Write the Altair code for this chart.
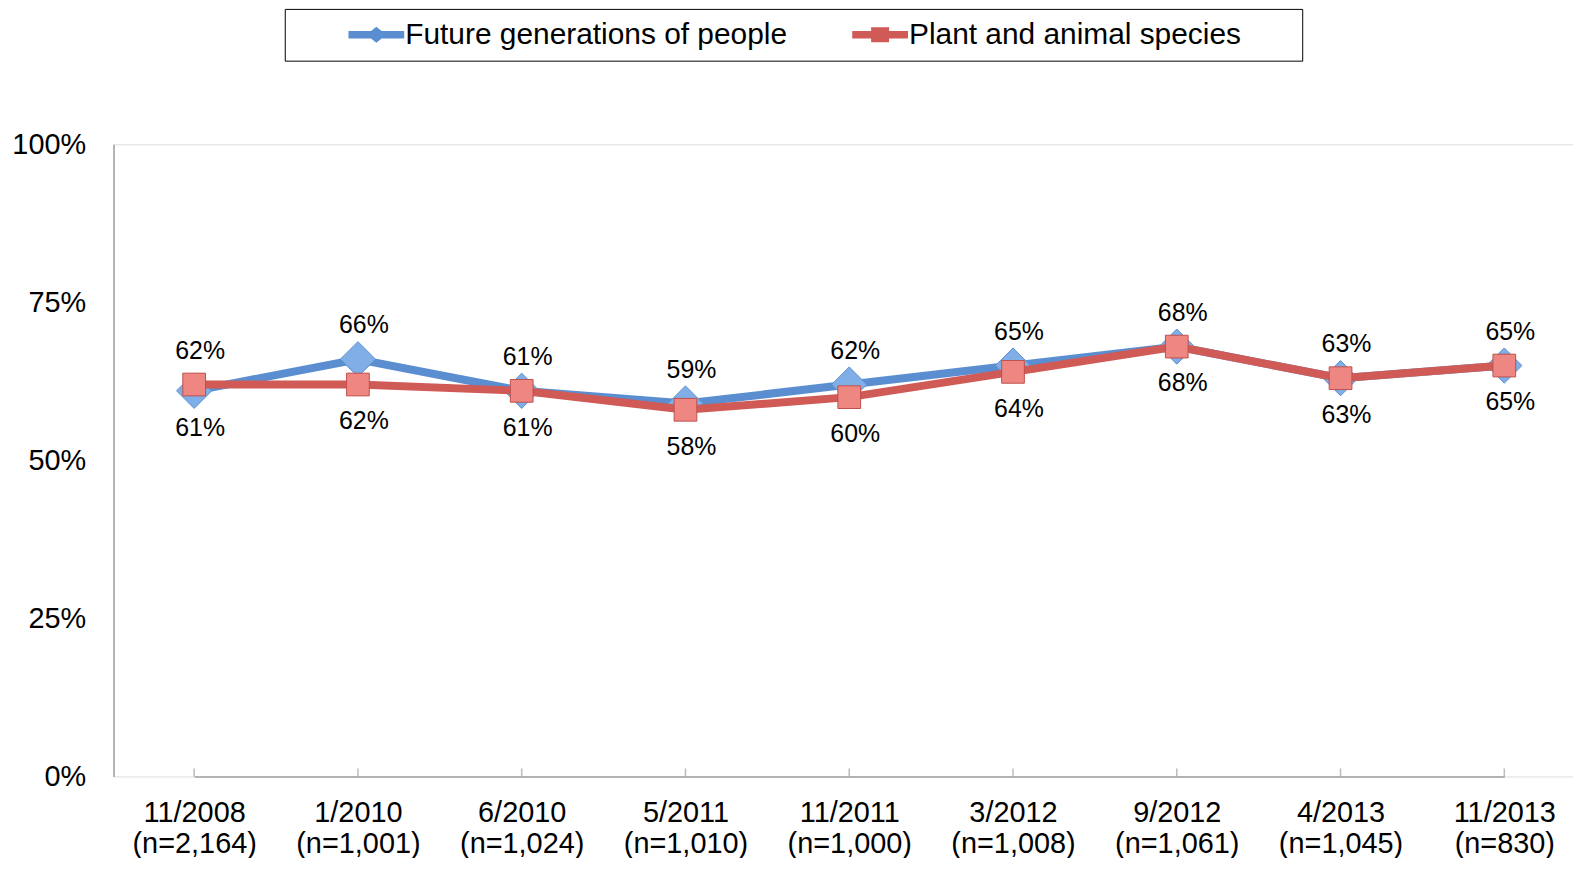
import altair as alt
import pandas as pd

dates = ["11/2008", "1/2010", "6/2010", "5/2011", "11/2011", "3/2012", "9/2012", "4/2013", "11/2013"]
samples = ["(n=2,164)", "(n=1,001)", "(n=1,024)", "(n=1,010)", "(n=1,000)", "(n=1,008)", "(n=1,061)", "(n=1,045)", "(n=830)"]
future = [61, 66, 61, 59, 62, 65, 68, 63, 65]
plant = [62, 62, 61, 58, 60, 64, 68, 63, 65]
series_names = ["Future generations of people", "Plant and animal species"]
y_ticks = [0, 0.25, 0.5, 0.75, 1.0]

cats = [d + "|" + n for d, n in zip(dates, samples)]
rows = []
for c, f, p in zip(cats, future, plant):
    f_top = f >= p
    rows.append({"cat": c, "series": series_names[0], "value": f / 100, "pos": "top" if f_top else "bottom"})
    rows.append({"cat": c, "series": series_names[1], "value": p / 100, "pos": "bottom" if f_top else "top"})
df = pd.DataFrame(rows)

FONT = "Liberation Sans"
BLUE = "#5A8ED0"
BLUE_FILL = "#80AEE6"
RED = "#D05A55"
RED_FILL = "#EE8782"
GRID = "#A0A0A0"

x_enc = alt.X("cat:N", sort=cats, title=None,
              scale=alt.Scale(type="point", padding=0, range=[81, 1397]),
              axis=alt.Axis(labelExpr="split(datum.label, '|')", labelFontSize=29, labelFont=FONT,
                            labelColor="#000", labelLineHeight=31, labelPadding=22, ticks=False,
                            domainColor=GRID, domainWidth=1.5, labelAngle=0, grid=False))
y_enc = alt.Y("value:Q", title=None,
              scale=alt.Scale(domain=[0, 1], nice=False, zero=True),
              axis=alt.Axis(values=y_ticks, format=".0%", labelFontSize=29, labelFont=FONT,
                            labelColor="#000", labelPadding=28, ticks=False, domainColor=GRID,
                            domainWidth=1.5, gridColor=GRID, gridWidth=1.6))

base = alt.Chart(df)

blue_line = base.transform_filter(alt.datum.series == series_names[0]).mark_line(
    color=BLUE, strokeWidth=8).encode(x=x_enc, y=y_enc)
blue_pts = base.transform_filter(alt.datum.series == series_names[0]).mark_point(
    shape="diamond", filled=True, size=1250, fill=BLUE_FILL, stroke=BLUE, strokeWidth=1, opacity=1
).encode(x=x_enc, y=y_enc)
red_line = base.transform_filter(alt.datum.series == series_names[1]).mark_line(
    color=RED, strokeWidth=8).encode(x=x_enc, y=y_enc)
red_pts = base.transform_filter(alt.datum.series == series_names[1]).mark_point(
    shape="square", filled=True, size=520, fill=RED_FILL, stroke="#C0504D", strokeWidth=1, opacity=1
).encode(x=x_enc, y=y_enc)

top_text = base.transform_filter(alt.datum.pos == "top").mark_text(
    dy=-34, dx=6, fontSize=25, font=FONT, color="#000", baseline="middle"
).encode(x=x_enc, y=y_enc, text=alt.Text("value:Q", format=".0%"))
bot_text = base.transform_filter(alt.datum.pos == "bottom").mark_text(
    dy=37, dx=6, fontSize=25, font=FONT, color="#000", baseline="middle"
).encode(x=x_enc, y=y_enc, text=alt.Text("value:Q", format=".0%"))

ticks = base.transform_filter(alt.datum.series == series_names[0]).mark_tick(
    orient="vertical", size=8, thickness=1.5, color=GRID, yOffset=-4
).encode(x=x_enc, y=alt.datum(0))

diamond_sym = "M3.8,-0.38H9.4V0.38H3.8Z M6.6,-0.8L7.6,0L6.6,0.8L5.6,0Z"
square_sym = "M3.8,-0.38H9.4V0.38H3.8Z M5.7,-0.75H7.5V0.75H5.7Z"

legend_layer = base.transform_filter("false").mark_point(filled=True, opacity=1, size=400).encode(
    color=alt.Color("series:N", scale=alt.Scale(domain=series_names, range=[BLUE, RED]),
                    legend=alt.Legend(orient="none", legendX=172, legendY=-136, direction="horizontal",
                                      title=None, labelFontSize=30, labelFont=FONT, labelColor="#000",
                                      labelLimit=800,
                                      symbolSize=400, labelOffset=80, columnPadding=12, padding=11,
                                      strokeColor="#000", symbolStrokeWidth=0,
                                      labelExpr="datum.label == 'Plant and animal species' ? datum.label + '\u00a0\u00a0\u00a0\u00a0\u00a0\u00a0\u200b' : datum.label")),
    shape=alt.Shape("series:N", scale=alt.Scale(domain=series_names, range=[diamond_sym, square_sym])),
)

chart = alt.layer(ticks, blue_line, blue_pts, red_line, red_pts, top_text, bot_text, legend_layer).properties(
    width=1466, height=635,
    autosize=alt.AutoSizeParams(type="none"),
    padding={"left": 106, "top": 135, "right": 0, "bottom": 80},
).configure_view(stroke=None).configure(background="white")

chart.save("out.html", embed_options={"renderer": "svg", "actions": False})
